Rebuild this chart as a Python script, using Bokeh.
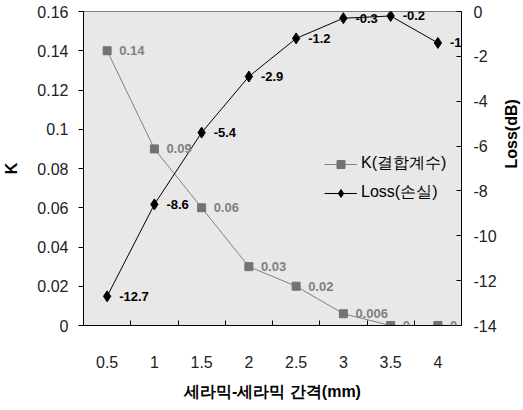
import math
from bokeh.plotting import figure
from bokeh.models import (Range1d, LinearAxis, FixedTicker, Legend, LegendItem,
                          ColumnDataSource, Label)
from bokeh.embed import file_html
from bokeh.resources import INLINE

# ---- data ----
gap = [0.5, 1, 1.5, 2, 2.5, 3, 3.5, 4]
gap_labels = ["0.5", "1", "1.5", "2", "2.5", "3", "3.5", "4"]
k_values = [0.14, 0.09, 0.06, 0.03, 0.02, 0.006, 0, 0]
k_labels = ["0.14", "0.09", "0.06", "0.03", "0.02", "0.006", "0", "0"]
loss_values = [-12.7, -8.6, -5.4, -2.9, -1.2, -0.3, -0.2, -1.4]
loss_labels = ["-12.7", "-8.6", "-5.4", "-2.9", "-1.2", "-0.3", "-0.2", "-1.4"]
k_ticks = [0, 0.02, 0.04, 0.06, 0.08, 0.1, 0.12, 0.14, 0.16]
k_tick_labels = ["0", "0.02", "0.04", "0.06", "0.08", "0.1", "0.12", "0.14", "0.16"]
loss_ticks = [-14, -12, -10, -8, -6, -4, -2, 0]
loss_tick_labels = ["-14", "-12", "-10", "-8", "-6", "-4", "-2", "0"]

FONT = "Liberation Sans"

src = ColumnDataSource(dict(x=gap, k=k_values, loss=loss_values))

p = figure(frame_width=378, frame_height=314,
           x_range=Range1d(0.25, 4.25), y_range=Range1d(0, 0.16),
           output_backend="svg", toolbar_location=None,
           min_border_left=73, min_border_right=56, min_border_top=11, min_border_bottom=69,
           background_fill_color="#e8e8e8", border_fill_color="white",
           outline_line_color="#808080", x_axis_location=None, y_axis_location=None)
p.xgrid.visible = False
p.ygrid.visible = False
p.extra_y_ranges = {"loss": Range1d(-14, 0)}

# x axis
mids = [(a + b) / 2 for a, b in zip(gap, gap[1:])]
xaxis = LinearAxis(ticker=FixedTicker(ticks=gap, minor_ticks=mids),
                   major_label_overrides=dict(zip(gap, gap_labels)),
                   axis_label="세라믹-세라믹 간격(mm)")
xaxis.major_tick_in = 0
xaxis.major_tick_out = 0
xaxis.minor_tick_in = 5
xaxis.minor_tick_out = 0
xaxis.major_label_standoff = 30
xaxis.axis_label_standoff = 12
p.add_layout(xaxis, "below")

# left axis
yaxis = LinearAxis(ticker=FixedTicker(ticks=k_ticks, minor_ticks=[]),
                   major_label_overrides=dict(zip(k_ticks, k_tick_labels)),
                   axis_label="K")
yaxis.major_tick_in = 0
yaxis.major_tick_out = 5
yaxis.major_label_standoff = 10
yaxis.axis_label_standoff = 14
p.add_layout(yaxis, "left")

# right axis (ticks + labels)
raxis = LinearAxis(y_range_name="loss",
                   ticker=FixedTicker(ticks=loss_ticks, minor_ticks=[]),
                   major_label_overrides=dict(zip(loss_ticks, loss_tick_labels)))
raxis.major_tick_in = 5
raxis.major_tick_out = 0
raxis.major_label_standoff = 12
p.add_layout(raxis, "right")

# right axis title (reads bottom-to-top)
rtitle = LinearAxis(y_range_name="loss", ticker=FixedTicker(ticks=[], minor_ticks=[]),
                    axis_label="Loss(dB)", bounds=(-14, -2.9))
rtitle.axis_line_color = None
rtitle.major_tick_in = 0
rtitle.major_tick_out = 0
rtitle.minor_tick_in = 0
rtitle.minor_tick_out = 0
rtitle.major_label_standoff = 0
rtitle.axis_label_standoff = 12
rtitle.axis_label_orientation = math.pi / 2
rtitle.axis_label_text_font = FONT
rtitle.axis_label_text_font_size = "16px"
rtitle.axis_label_text_font_style = "bold"
rtitle.axis_label_text_color = "black"
p.add_layout(rtitle, "right")

for ax in (xaxis, yaxis, raxis):
    ax.axis_line_color = "black"
    ax.major_tick_line_color = "black"
    ax.minor_tick_line_color = "black"
    ax.major_label_text_font = FONT
    ax.major_label_text_font_size = "16px"
    ax.major_label_text_color = "#222222"
    ax.axis_label_text_font = FONT
    ax.axis_label_text_font_size = "16px"
    ax.axis_label_text_font_style = "bold"
    ax.axis_label_text_color = "black"

# series
kline = p.line("x", "k", source=src, line_color="#808080", line_width=1)
kpts = p.scatter("x", "k", source=src, marker="square", size=8,
                 fill_color="#737373", line_color="#737373")
lline = p.line("x", "loss", source=src, y_range_name="loss", line_color="black", line_width=1)
lpts = p.scatter("x", "loss", source=src, y_range_name="loss", marker="diamond", size=11,
                 fill_color="black", line_color="black")

for xv, yv, t in zip(gap, k_values, k_labels):
    p.add_layout(Label(x=xv, y=yv, text=t, x_offset=12, y_offset=0,
                       text_baseline="middle", text_align="left", text_font=FONT,
                       text_font_size="13px", text_font_style="bold", text_color="#808080"))
for xv, yv, t in zip(gap, loss_values, loss_labels):
    p.add_layout(Label(x=xv, y=yv, text=t, y_range_name="loss", x_offset=12, y_offset=0,
                       text_baseline="middle", text_align="left", text_font=FONT,
                       text_font_size="13px", text_font_style="bold", text_color="black"))

legend = Legend(items=[LegendItem(label="K(결합계수)", renderers=[kline, kpts]),
                       LegendItem(label="Loss(손실)", renderers=[lline, lpts])],
                location=(241, 122), orientation="vertical")
legend.padding = 0
legend.margin = 0
legend.spacing = 8
legend.glyph_width = 33
legend.glyph_height = 20
legend.label_height = 20
legend.label_standoff = 4
legend.label_text_font = FONT
legend.label_text_font_size = "16px"
legend.label_text_color = "black"
legend.border_line_color = None
legend.background_fill_alpha = 0
p.add_layout(legend)

open("out.html", "w").write(file_html(p, INLINE))
